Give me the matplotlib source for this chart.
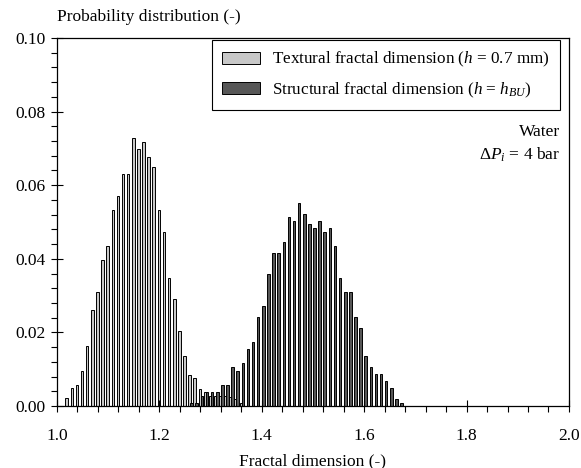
import numpy as np
import matplotlib.pyplot as plt
from matplotlib.ticker import MultipleLocator

plt.rcParams['font.family'] = 'Liberation Serif'
plt.rcParams['mathtext.fontset'] = 'custom'
plt.rcParams['mathtext.rm'] = 'Liberation Serif'
plt.rcParams['mathtext.it'] = 'Liberation Serif:italic'
plt.rcParams['font.size'] = 12.5

# histogram bins (width 0.01), first bin centre for each series
bin_width = 0.01
textural_start = 1.02
structural_start = 1.26

textural = [0.0021, 0.0048, 0.0057, 0.0096, 0.0164, 0.0260, 0.0309, 0.0397,
            0.0436, 0.0533, 0.0571, 0.0630, 0.0630, 0.0727, 0.0698, 0.0717,
            0.0677, 0.0649, 0.0533, 0.0474, 0.0349, 0.0290, 0.0203, 0.0135,
            0.0085, 0.0077, 0.0047, 0.0037, 0.0027, 0.0027, 0.0027, 0.0027,
            0.0025, 0.0019, 0.0009]
structural = [0.0009, 0.0009, 0.0027, 0.0037, 0.0037, 0.0037, 0.0057, 0.0057,
              0.0105, 0.0096, 0.0116, 0.0155, 0.0173, 0.0243, 0.0272, 0.0358,
              0.0417, 0.0417, 0.0446, 0.0513, 0.0504, 0.0551, 0.0522, 0.0495,
              0.0485, 0.0504, 0.0474, 0.0485, 0.0435, 0.0349, 0.0309, 0.0309,
              0.0243, 0.0213, 0.0136, 0.0105, 0.0087, 0.0087, 0.0068, 0.0048,
              0.0019, 0.0009]

x_tex = textural_start + bin_width * np.arange(len(textural))
x_str = structural_start + bin_width * np.arange(len(structural))

fig = plt.figure(figsize=(5.81, 4.68), dpi=100)
ax = fig.add_axes([0.0981, 0.1325, 0.8812, 0.7863])

ax.bar(x_tex - 0.001, textural, width=0.005, color='#c8c8c8',
       edgecolor='black', linewidth=0.7,
       label='Textural fractal dimension ($h$ = 0.7 mm)')
ax.bar(x_str + 0.003, structural, width=0.005, color='#575757',
       edgecolor='black', linewidth=0.7,
       label='Structural fractal dimension ($h$ = $h_{BU}$)')

ax.set_xlim(1.0, 2.0)
ax.set_ylim(0, 0.10)
ax.xaxis.set_major_locator(MultipleLocator(0.2))
ax.xaxis.set_minor_locator(MultipleLocator(0.04))
ax.yaxis.set_major_locator(MultipleLocator(0.02))
ax.yaxis.set_minor_locator(MultipleLocator(0.004))
ax.xaxis.set_major_formatter(plt.FormatStrFormatter('%.1f'))
ax.yaxis.set_major_formatter(plt.FormatStrFormatter('%.2f'))
ax.tick_params(which='major', direction='inout', length=9, width=0.8)
ax.tick_params(which='minor', direction='out', length=4, width=0.8)
ax.tick_params(axis='x', which='major', pad=11)
ax.tick_params(axis='y', which='major', pad=4)
for s in ax.spines.values():
    s.set_linewidth(0.9)

ax.set_xlabel('Fractal dimension (-)', labelpad=7)
ax.text(0.0, 1.057, 'Probability distribution (-)', transform=ax.transAxes,
        ha='left', va='center')

leg = ax.legend(loc='upper right', bbox_to_anchor=(0.982, 0.995),
                borderaxespad=0, fancybox=False, edgecolor='black',
                framealpha=1, handlelength=2.2, handleheight=0.7,
                handletextpad=0.7, borderpad=0.6, labelspacing=0.65,
                fontsize=12.3)
leg.get_frame().set_linewidth(0.8)

ax.text(0.982, 0.745, 'Water', transform=ax.transAxes, ha='right', va='center')
ax.text(0.982, 0.682, r'$\mathit{Δ}P_i$ = 4 bar', transform=ax.transAxes,
        ha='right', va='center')

fig.savefig('out.png', dpi=100)
